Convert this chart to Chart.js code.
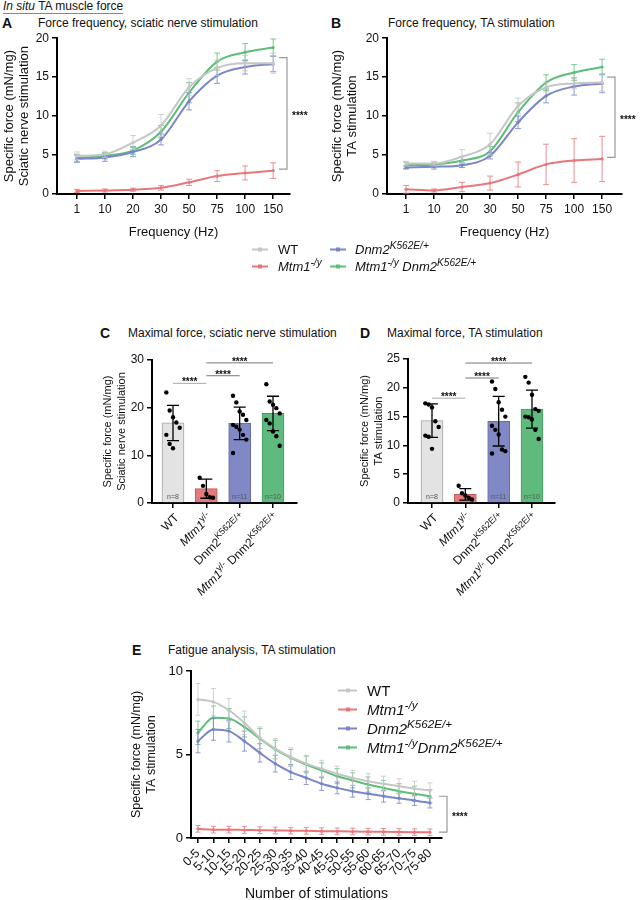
<!DOCTYPE html>
<html>
<head>
<meta charset="utf-8">
<script src="https://cdn.jsdelivr.net/npm/chart.js@4.4.1/dist/chart.umd.min.js"></script>
<style>
  body { margin: 0; width: 642px; height: 900px; overflow: hidden; background: #fff; position: relative;
         font-family: "Liberation Sans", Arial, sans-serif; color: #111; }
  .abs { position: absolute; white-space: nowrap; line-height: 1; }
  canvas { position: absolute; }
  .let { font-weight: bold; font-size: 14px; }
  .ttl { font-size: 12px; }
  .head { font-size: 12px; border-bottom: 1px solid #888; padding-bottom: 1px; }
  .li { position: absolute; display: flex; align-items: center; white-space: nowrap; transform: translateY(-50%); }
  .sw { position: relative; display: inline-block; height: 2px; }
  .sw i { position: absolute; left: 50%; top: -1px; width: 4px; height: 4px; margin-left: -2px; background: inherit; }
  sup { font-size: 0.78em; vertical-align: 0.45em; line-height: 0; }
  .it { font-style: italic; }
</style>
</head>
<body>

<div class="abs head" style="left:3px;top:0px"><span class="it">In situ</span> TA muscle force</div>

<div class="abs let" style="left:2px;top:16px">A</div>
<div class="abs ttl" style="left:38px;top:17px">Force frequency, sciatic nerve stimulation</div>
<div class="abs let" style="left:331px;top:16px">B</div>
<div class="abs ttl" style="left:388px;top:17px">Force frequency, TA stimulation</div>
<div class="abs let" style="left:100px;top:326px">C</div>
<div class="abs ttl" style="left:128px;top:327px">Maximal force, sciatic nerve stimulation</div>
<div class="abs let" style="left:360px;top:326px">D</div>
<div class="abs ttl" style="left:387px;top:327px">Maximal force, TA stimulation</div>
<div class="abs let" style="left:132px;top:643px">E</div>
<div class="abs ttl" style="left:168px;top:644px">Fatigue analysis, TA stimulation</div>

<canvas id="chartA" width="320" height="216" style="left:0px;top:28px"></canvas>
<canvas id="chartB" width="314" height="216" style="left:328px;top:28px"></canvas>
<canvas id="chartC" width="225" height="270" style="left:95px;top:345px"></canvas>
<canvas id="chartD" width="230" height="270" style="left:350px;top:345px"></canvas>
<canvas id="chartE" width="360" height="250" style="left:120px;top:655px"></canvas>

<!-- legend for A and B -->
<div class="li" style="left:252px;top:249px;font-size:13px"><span class="sw" style="width:16px;background:#c6c6c6;margin-right:10px"><i></i></span>WT</div>
<div class="li" style="left:252px;top:266px;font-size:13px"><span class="sw" style="width:16px;background:#e8777b;margin-right:10px"><i></i></span><span class="it">Mtm1<sup>-/y</sup></span></div>
<div class="li" style="left:330px;top:249px;font-size:13px"><span class="sw" style="width:16px;background:#7b85c8;margin-right:9px"><i></i></span><span class="it">Dnm2<sup>K562E/+</sup></span></div>
<div class="li" style="left:330px;top:266px;font-size:13px"><span class="sw" style="width:16px;background:#5dbe78;margin-right:9px"><i></i></span><span class="it">Mtm1<sup>-/y</sup> Dnm2<sup>K562E/+</sup></span></div>

<!-- legend for E -->
<div class="li" style="left:338px;top:690px;font-size:15px"><span class="sw" style="width:19px;background:#c6c6c6;margin-right:10px"><i></i></span>WT</div>
<div class="li" style="left:338px;top:709px;font-size:15px"><span class="sw" style="width:19px;background:#e8777b;margin-right:10px"><i></i></span><span class="it">Mtm1<sup>-/y</sup></span></div>
<div class="li" style="left:338px;top:728px;font-size:15px"><span class="sw" style="width:19px;background:#7b85c8;margin-right:10px"><i></i></span><span class="it">Dnm2<sup>K562E/+</sup></span></div>
<div class="li" style="left:338px;top:747px;font-size:15px"><span class="sw" style="width:19px;background:#5dbe78;margin-right:10px"><i></i></span><span class="it">Mtm1<sup>-/y</sup>Dnm2<sup>K562E/+</sup></span></div>

<script>
// données
const freqLabels = ['1', '10', '20', '30', '50', '75', '100', '150'];

// A - sciatic nerve stimulation
const wtA = [4.9, 5.1, 6.6, 8.8, 13.7, 16.2, 16.8, 16.8];
const wtA_sd = [0.5, 0.4, 0.9, 1.4, 1.1, 1.0, 1.0, 1.3];
const mtmA = [0.4, 0.45, 0.55, 0.8, 1.5, 2.3, 2.7, 3.0];
const mtmA_sd = [0.2, 0.2, 0.2, 0.3, 0.4, 0.7, 0.9, 1.0];
const dnmA = [4.5, 4.7, 5.4, 7.0, 11.9, 15.2, 16.3, 16.7];
const dnmA_sd = [0.4, 0.5, 0.6, 0.7, 1.1, 1.0, 0.9, 1.0];
const dblA = [4.6, 4.9, 5.6, 8.0, 13.0, 17.0, 18.2, 18.8];
const dblA_sd = [0.5, 0.4, 0.5, 0.8, 1.3, 1.1, 1.1, 1.1];
const bracketA = [17.5, 3.2];

// B - TA stimulation
const wtB = [3.9, 3.9, 4.8, 6.4, 11.3, 13.7, 14.2, 14.3];
const wtB_sd = [0.3, 0.3, 0.9, 1.4, 1.0, 0.6, 0.7, 1.1];
const mtmB = [0.6, 0.45, 0.9, 1.4, 2.5, 3.8, 4.3, 4.5];
const mtmB_sd = [0.5, 0.2, 0.6, 0.9, 1.6, 2.6, 2.8, 2.9];
const dnmB = [3.4, 3.5, 3.7, 4.9, 9.2, 12.6, 13.8, 14.2];
const dnmB_sd = [0.2, 0.3, 0.3, 0.4, 0.8, 0.9, 1.1, 1.2];
const dblB = [3.7, 3.8, 4.3, 5.5, 10.5, 14.3, 15.6, 16.3];
const dblB_sd = [0.4, 0.3, 0.5, 0.6, 1.2, 1.0, 1.0, 1.0];
const bracketB = [15.0, 4.7];

// C / D - maximal force (bars)
const groupCats = ['WT', '_Mtm1_^{y/-}', 'Dnm2^{K562E/+}', '_Mtm1_^{y/-} Dnm2^{K562E/+}'];
const meanC = [16.8, 3.0, 16.7, 18.8];
const sdC = [3.7, 2.0, 3.4, 3.6];
const dotsC = [
  [23.2, 19.4, 18.0, 16.9, 15.8, 14.3, 12.4, 11.5],
  [5.3, 3.6, 1.9, 1.2, 1.1],
  [22.5, 21.1, 19.2, 18.5, 17.4, 16.4, 16.0, 15.4, 14.3, 13.3, 10.5],
  [24.9, 21.3, 20.6, 19.9, 18.8, 17.4, 16.7, 15.0, 14.0, 12.0]
];
const nC = ['n=8', '', 'n=11', 'n=10'];
const sigC = [[0, 1, 25.1], [1, 2, 26.7], [1, 3, 29.4]];

const meanD = [14.3, 1.5, 14.2, 16.3];
const sdD = [2.9, 1.0, 4.3, 3.3];
const dotsD = [
  [17.3, 17.1, 16.6, 14.2, 13.2, 11.7, 11.5, 9.4],
  [3.0, 1.7, 1.3, 0.9, 0.6],
  [21.1, 19.8, 17.5, 16.2, 15.0, 13.4, 12.7, 11.9, 9.3, 9.0, 8.6],
  [21.9, 20.9, 18.8, 16.3, 16.0, 15.0, 14.9, 14.5, 12.7, 11.1]
];
const nD = ['n=8', '', 'n=11', 'n=10'];
const sigD = [[0, 1, 18.2], [1, 2, 21.7], [1, 3, 24.3]];

// E - fatigue
const stimLabels = ['0-5', '5-10', '10-15', '15-20', '20-25', '25-30', '30-35', '35-40',
                    '40-45', '45-50', '50-55', '55-60', '60-65', '65-70', '70-75', '75-80'];
const wtE = [8.3, 8.15, 7.65, 6.9, 6.0, 5.35, 4.85, 4.45, 4.15, 3.85, 3.6, 3.4, 3.25, 3.1, 2.95, 2.85];
const wtE_sd = [0.95, 0.8, 0.7, 0.7, 0.65, 0.6, 0.55, 0.5, 0.5, 0.45, 0.45, 0.45, 0.45, 0.45, 0.45, 0.45];
const mtmE = [0.55, 0.5, 0.5, 0.48, 0.47, 0.45, 0.44, 0.43, 0.41, 0.4, 0.39, 0.38, 0.37, 0.36, 0.35, 0.34];
const mtmE_sd = [0.2, 0.2, 0.2, 0.2, 0.2, 0.2, 0.2, 0.2, 0.2, 0.2, 0.2, 0.2, 0.2, 0.2, 0.2, 0.2];
const dnmE = [5.8, 6.5, 6.4, 5.8, 5.1, 4.45, 3.95, 3.6, 3.25, 3.0, 2.8, 2.65, 2.5, 2.38, 2.25, 2.1];
const dnmE_sd = [0.7, 0.65, 0.65, 0.6, 0.55, 0.5, 0.45, 0.4, 0.4, 0.35, 0.35, 0.35, 0.35, 0.3, 0.3, 0.3];
const dblE = [6.3, 7.2, 7.15, 6.65, 5.95, 5.3, 4.8, 4.4, 4.05, 3.7, 3.45, 3.2, 3.0, 2.8, 2.65, 2.5];
const dblE_sd = [0.7, 0.7, 0.6, 0.6, 0.6, 0.55, 0.5, 0.5, 0.45, 0.45, 0.45, 0.45, 0.45, 0.45, 0.45, 0.4];
const bracketE = [2.5, 0.35];

// couleurs
const cWT = '#c6c6c6', cMtm = '#e8777b', cDnm = '#7b85c8', cDbl = '#5dbe78';
const barFill = ['#e3e3e3', '#e37a7c', '#8089c6', '#5fba7d'];
const barLine = ['#a3a3a3', '#c85a5e', '#666fae', '#469c62'];

Chart.defaults.font.family = '"Liberation Sans", Arial, sans-serif';
Chart.defaults.color = '#111';
Chart.defaults.animation = false;

const FONT = '"Liberation Sans", Arial, sans-serif';

// texte avec exposants : _italique_  ^{exposant}
function parseRich(s) {
  const out = [];
  const re = /_([^_]+)_|\^\{([^}]*)\}|([^_^]+)/g;
  let m;
  while ((m = re.exec(s))) {
    if (m[1]) out.push({ t: m[1], it: true });
    else if (m[2]) out.push({ t: m[2], sup: true });
    else out.push({ t: m[3] });
  }
  return out;
}

// barres d'erreur + annotations
const decor = {
  id: 'decor',
  afterDatasetDraw(chart, args) {
    const ds = chart.data.datasets[args.index];
    if (!ds.sd) return;
    const ctx = chart.ctx, ys = chart.scales.y;
    ctx.save();
    ctx.strokeStyle = ds.errColor || ds.borderColor;
    ctx.lineWidth = ds.errWidth || 1;
    args.meta.data.forEach((el, i) => {
      const v = ds.data[i].y, e = ds.sd[i], c = ds.cap || 3;
      const y1 = ys.getPixelForValue(v + e), y2 = ys.getPixelForValue(Math.max(0, v - e));
      ctx.beginPath();
      ctx.moveTo(el.x, y1); ctx.lineTo(el.x, y2);
      ctx.moveTo(el.x - c, y1); ctx.lineTo(el.x + c, y1);
      ctx.moveTo(el.x - c, y2); ctx.lineTo(el.x + c, y2);
      ctx.stroke();
    });
    ctx.restore();
  },
  afterDraw(chart, args, o) {
    const ctx = chart.ctx, xs = chart.scales.x, ys = chart.scales.y, a = chart.chartArea;
    ctx.save();
    if (o.bracket) {
      const x = a.right + o.bracketDx;
      const y1 = ys.getPixelForValue(o.bracket[0]), y2 = ys.getPixelForValue(o.bracket[1]);
      ctx.strokeStyle = '#9a9a9a'; ctx.lineWidth = 1.2;
      ctx.beginPath();
      ctx.moveTo(x - 8, y1); ctx.lineTo(x, y1); ctx.lineTo(x, y2); ctx.lineTo(x - 8, y2);
      ctx.stroke();
      ctx.fillStyle = '#111'; ctx.font = 'bold 10px ' + FONT;
      ctx.textAlign = 'left'; ctx.textBaseline = 'alphabetic';
      ctx.fillText('****', x + 5, (y1 + y2) / 2 + 6);
    }
    (o.sig || []).forEach(([i, j, lvl], k) => {
      const y = ys.getPixelForValue(lvl), x1 = xs.getPixelForValue(i), x2 = xs.getPixelForValue(j);
      ctx.strokeStyle = k === 0 ? '#aaaaaa' : '#777777'; ctx.lineWidth = 1;
      ctx.beginPath(); ctx.moveTo(x1, y); ctx.lineTo(x2, y); ctx.stroke();
      ctx.fillStyle = '#111'; ctx.font = 'bold 10px ' + FONT;
      ctx.textAlign = 'center'; ctx.textBaseline = 'alphabetic';
      ctx.fillText('****', (x1 + x2) / 2, y + 2);
    });
    (o.nLabels || []).forEach((t, i) => {
      if (!t) return;
      ctx.fillStyle = '#555'; ctx.font = '7px ' + FONT;
      ctx.textAlign = 'center'; ctx.textBaseline = 'middle';
      ctx.fillText(t, xs.getPixelForValue(i), a.bottom - 6);
    });
    (o.rich || []).forEach((lab, i) => {
      const segs = parseRich(lab);
      const fnt = s => (s.it ? 'italic ' : '') + (s.sup ? 9 : 12) + 'px ' + FONT;
      let w = 0;
      segs.forEach(s => { ctx.font = fnt(s); s.w = ctx.measureText(s.t).width; w += s.w; });
      ctx.save();
      ctx.translate(xs.getPixelForValue(i) + 4, xs.top + 13);
      ctx.rotate(-Math.PI / 4);
      ctx.fillStyle = '#111'; ctx.textAlign = 'left'; ctx.textBaseline = 'middle';
      let cx = -w;
      segs.forEach(s => {
        ctx.font = fnt(s);
        ctx.fillText(s.t, cx, s.sup ? -4 : 0);
        cx += s.w;
      });
      ctx.restore();
    });
    ctx.restore();
  }
};

const gridStyle = { drawOnChartArea: false, tickLength: 5, color: '#000', lineWidth: 1.5, offset: false };
const borderStyle = { color: '#000', width: 2 };

function xIndexScale(labels, min, max, h, opts) {
  return {
    type: 'linear', min, max, offset: false,
    afterBuildTicks: s => { s.ticks = labels.map((_, i) => ({ value: i })); },
    afterFit: s => { s.height = h; },
    ticks: {
      autoSkip: false, font: { size: opts.tick }, padding: 3,
      maxRotation: opts.rot || 0, minRotation: opts.rot || 0,
      callback: v => opts.hide ? '' : labels[v]
    },
    grid: gridStyle, border: borderStyle,
    title: opts.title
      ? { display: true, text: opts.title, font: { size: opts.titleSize, lineHeight: 1.15 }, padding: { top: 0, bottom: opts.titlePad } }
      : { display: false }
  };
}

function yScale(max, step, w, lines, size, lh, pad, tick) {
  return {
    min: 0, max,
    afterFit: s => { s.width = w; },
    ticks: { stepSize: step, font: { size: tick }, padding: 3 },
    grid: gridStyle, border: borderStyle,
    title: { display: true, text: lines, font: { size, lineHeight: lh }, padding: { top: pad, bottom: 0 } }
  };
}

function lineSet(label, vals, sd, color, cap) {
  return {
    label, data: vals.map((v, i) => ({ x: i, y: v })), sd,
    borderColor: color, backgroundColor: color, errColor: color + 'd0',
    borderWidth: 2, pointRadius: 1.6, pointBorderWidth: 0,
    cubicInterpolationMode: 'monotone', cap
  };
}

function lineChart(id, sets, xs, ys, deco, pad) {
  return new Chart(document.getElementById(id), {
    type: 'line',
    data: { datasets: sets },
    options: {
      responsive: false, devicePixelRatio: 1,
      layout: { padding: pad },
      plugins: { legend: { display: false }, tooltip: { enabled: false }, decor: deco },
      scales: { x: xs, y: ys }
    },
    plugins: [decor]
  });
}

// A
lineChart('chartA', [
  lineSet('WT', wtA, wtA_sd, cWT, 3),
  lineSet('Mtm1-/y', mtmA, mtmA_sd, cMtm, 3),
  lineSet('Dnm2K562E/+', dnmA, dnmA_sd, cDnm, 3),
  lineSet('Mtm1-/y Dnm2K562E/+', dblA, dblA_sd, cDbl, 3)
],
  xIndexScale(freqLabels, -0.71, 7.6, 50, { tick: 12, title: 'Frequency (Hz)', titleSize: 13, titlePad: 4 }),
  yScale(20, 5, 57, ['Specific force (mN/mg)', 'Sciatic nerve stimulation'], 13, 1.15, 2, 12),
  { bracket: bracketA, bracketDx: -3 },
  { top: 10, right: 30, left: 0, bottom: 0 });

// B
lineChart('chartB', [
  lineSet('WT', wtB, wtB_sd, cWT, 3),
  lineSet('Mtm1-/y', mtmB, mtmB_sd, cMtm, 3),
  lineSet('Dnm2K562E/+', dnmB, dnmB_sd, cDnm, 3),
  lineSet('Mtm1-/y Dnm2K562E/+', dblB, dblB_sd, cDbl, 3)
],
  xIndexScale(freqLabels, -0.68, 7.71, 50, { tick: 12, title: 'Frequency (Hz)', titleSize: 13, titlePad: 4 }),
  yScale(20, 5, 59, ['Specific force (mN/mg)', 'TA stimulation'], 13, 1.15, 2, 12),
  { bracket: bracketB, bracketDx: -7 },
  { top: 10, right: 20, left: 0, bottom: 0 });

// C et D : barres + points individuels
function dotData(groups) {
  const out = [];
  groups.forEach((g, gi) => g.forEach((v, k) => out.push({ x: gi + ((k % 5) - 2) * 0.1, y: v })));
  return out;
}

function barChart(id, means, sd, dots, xmin, xmax, ymax, ystep, yw, titlePad, deco, pad) {
  return new Chart(document.getElementById(id), {
    type: 'bar',
    data: {
      datasets: [
        { type: 'scatter', data: dotData(dots), pointRadius: 2.2, pointBackgroundColor: '#000', pointBorderWidth: 0 },
        {
          type: 'bar', data: means.map((m, i) => ({ x: i, y: m })), sd,
          backgroundColor: barFill, borderColor: barLine, borderWidth: 1, barThickness: 22,
          errColor: '#000', errWidth: 1.3, cap: 6
        }
      ]
    },
    options: {
      responsive: false, devicePixelRatio: 1,
      layout: { padding: pad },
      plugins: { legend: { display: false }, tooltip: { enabled: false }, decor: deco },
      scales: {
        x: xIndexScale(groupCats, xmin, xmax, 112, { tick: 11, hide: true }),
        y: yScale(ymax, ystep, yw, ['Specific force (mN/mg)', deco.ytitle], 11, 1.25, titlePad, 12)
      }
    },
    plugins: [decor]
  });
}

barChart('chartC', meanC, sdC, dotsC, -0.63, 3.72, 30, 10, 57, 6,
  { sig: sigC, nLabels: nC, rich: groupCats, ytitle: 'Sciatic nerve stimulation' },
  { top: 15, right: 23, left: 0, bottom: 0 });

barChart('chartD', meanD, sdD, dotsD, -0.72, 3.69, 25, 5, 58, 8,
  { sig: sigD, nLabels: nD, rich: groupCats, ytitle: 'TA stimulation' },
  { top: 14, right: 25, left: 0, bottom: 0 });

// E
lineChart('chartE', [
  lineSet('WT', wtE, wtE_sd, cWT, 2.5),
  lineSet('Mtm1-/y', mtmE, mtmE_sd, cMtm, 2.5),
  lineSet('Dnm2K562E/+', dnmE, dnmE_sd, cDnm, 2.5),
  lineSet('Mtm1-/yDnm2K562E/+', dblE, dblE_sd, cDbl, 2.5)
],
  xIndexScale(stimLabels, -0.45, 15.78, 67, { tick: 12.5, rot: 45, title: 'Number of stimulations', titleSize: 14, titlePad: 3 }),
  yScale(10, 5, 71, ['Specific force (mN/mg)', 'TA stimulation'], 12.5, 1.2, 9.5, 13),
  { bracket: bracketE, bracketDx: 5 },
  { top: 16, right: 38, left: 0, bottom: 0 });
</script>
</body>
</html>
